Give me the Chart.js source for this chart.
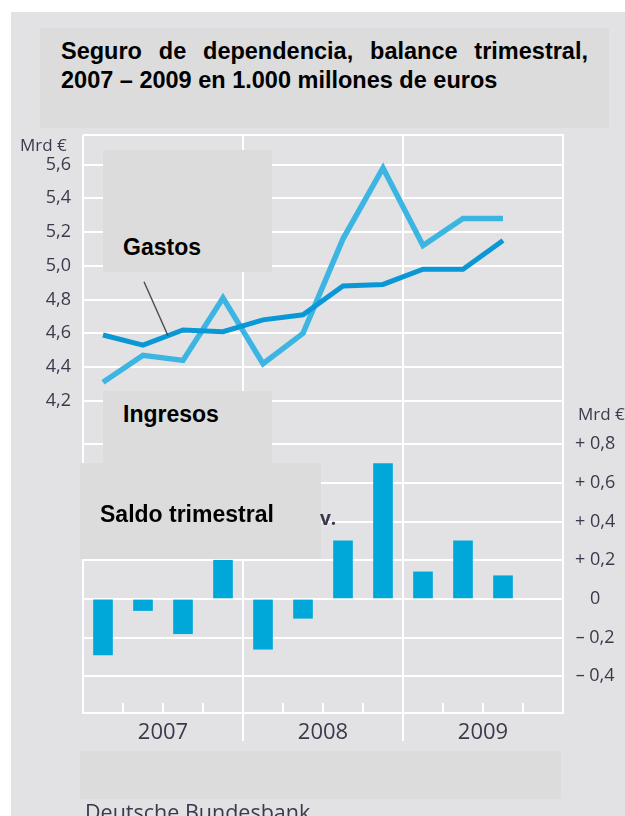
<!DOCTYPE html>
<html>
<head>
<meta charset="utf-8">
<script src="https://cdn.jsdelivr.net/npm/chart.js@4.4.1/dist/chart.umd.min.js"></script>
<style>
  html, body { margin: 0; padding: 0; background: #fff; }
  body { width: 625px; height: 816px; position: relative; overflow: hidden; }
  #panel { position: absolute; left: 11px; top: 12px; width: 614px; height: 804px; background: #e2e2e4; }
  #chart { position: absolute; left: 0; top: 0; }
  .caja { position: absolute; background: #dcdcdc; }
  .rotulo { position: absolute; font-family: "Liberation Sans", Arial, sans-serif; font-weight: bold; color: #000; white-space: nowrap; line-height: 1; }
  .gris { position: absolute; font-family: "Open Sans", sans-serif; color: #3a3a4c; white-space: nowrap; line-height: 1; }
</style>
</head>
<body>
<div id="panel"></div>
<canvas id="chart" width="625" height="816"></canvas>

<div class="caja" style="left:40px; top:28px; width:569px; height:100px;"></div>
<div class="rotulo" style="left:61px; top:40px; width:527px; font-size:23.5px; white-space:normal; text-align:justify; text-align-last:justify;">Seguro de dependencia, balance trimestral,</div>
<div class="rotulo" style="left:61px; top:69px; font-size:23.5px;">2007 – 2009 en 1.000 millones de euros</div>

<div class="caja" style="left:103px; top:150px; width:169px; height:122px;"></div>
<div class="rotulo" style="left:123px; top:236px; font-size:23px;">Gastos</div>

<div class="caja" style="left:103px; top:391px; width:169px; height:72px;"></div>
<div class="rotulo" style="left:123px; top:403px; font-size:23px;">Ingresos</div>

<div class="caja" style="left:80px; top:463px; width:241px; height:96px;"></div>
<div class="rotulo" style="left:100px; top:503px; font-size:23px;">Saldo trimestral</div>
<div class="gris" style="left:320px; top:509px; font-size:19px; font-weight:bold;">v.</div>

<div class="caja" style="left:80px; top:751px; width:481px; height:48px;"></div>

<div class="gris" style="left:20px; top:136px; font-size:17px;">Mrd €</div>
<div class="gris" style="left:578px; top:405px; font-size:17px;">Mrd €</div>
<div class="gris" style="left:85px; top:801px; font-size:21.5px;">Deutsche Bundesbank</div>

<script>
// trimestres 2007 I - 2009 III
const trimestres = ["2007 I", "2007 II", "2007 III", "2007 IV",
                    "2008 I", "2008 II", "2008 III", "2008 IV",
                    "2009 I", "2009 II", "2009 III"];
const anios = ["2007", "2008", "2009"];

// Mrd €
const gastos   = [4.59, 4.53, 4.62, 4.61, 4.68, 4.71, 4.88, 4.89, 4.98, 4.98, 5.15];
const ingresos = [4.31, 4.47, 4.44, 4.81, 4.42, 4.60, 5.16, 5.58, 5.12, 5.28, 5.28];
const saldo    = [-0.29, -0.06, -0.18, 0.20, -0.26, -0.10, 0.30, 0.70, 0.14, 0.30, 0.12];

const ticksIzq = [4.2, 4.4, 4.6, 4.8, 5.0, 5.2, 5.4, 5.6];
const ticksDer = [-0.4, -0.2, 0, 0.2, 0.4, 0.6, 0.8];

const BLANCO = "#ffffff";
const TEXTO = "#3a3a4c";

function puntos(serie) {
    return serie.map((v, i) => ({ x: i + 0.5, y: v }));
}

function coma(v) {
    return v.toFixed(1).replace(".", ",");
}

// marcas de trimestre y linea indicadora de "Gastos"
const extras = {
    id: "extras",
    afterDraw(chart) {
        const ctx = chart.ctx;
        const x = chart.scales.x;
        const y = chart.scales.y;
        const abajo = chart.chartArea.bottom;

        ctx.save();
        ctx.strokeStyle = BLANCO;
        ctx.lineWidth = 2;
        for (let q = 1; q < 12; q++) {
            if (q % 4 === 0) continue;
            const px = x.getPixelForValue(q);
            ctx.beginPath();
            ctx.moveTo(px, abajo);
            ctx.lineTo(px, abajo - 10);
            ctx.stroke();
        }

        // indicador: punto sobre la linea de gastos entre II y III 2007
        const t = 0.625;
        const vx = 1.5 + t;
        const vy = gastos[1] + t * (gastos[2] - gastos[1]);
        const ex = x.getPixelForValue(vx);
        const ey = y.getPixelForValue(vy);
        ctx.strokeStyle = "#4a4a4a";
        ctx.lineWidth = 1.4;
        ctx.beginPath();
        ctx.moveTo(ex - 24, ey - 54);
        ctx.lineTo(ex, ey);
        ctx.stroke();
        ctx.restore();
    }
};

new Chart(document.getElementById("chart"), {
    data: {
        datasets: [
            {
                type: "line",
                label: "Gastos",
                data: puntos(gastos),
                yAxisID: "y",
                borderColor: "#0a97d6",
                borderWidth: 5,
                pointRadius: 0,
                tension: 0,
                borderJoinStyle: "miter",
                order: 1
            },
            {
                type: "line",
                label: "Ingresos",
                data: puntos(ingresos),
                yAxisID: "y",
                borderColor: "#3db5e2",
                borderWidth: 5.5,
                pointRadius: 0,
                tension: 0,
                borderJoinStyle: "miter",
                order: 2
            },
            {
                type: "bar",
                label: "Saldo trimestral",
                data: puntos(saldo),
                yAxisID: "y2",
                backgroundColor: "#00a8da",
                barThickness: 19,
                order: 3
            }
        ]
    },
    options: {
        responsive: false,
        animation: false,
        layout: { padding: { top: 135, bottom: 53, left: 0, right: 0 } },
        plugins: {
            legend: { display: false },
            tooltip: { enabled: false }
        },
        scales: {
            x: {
                type: "linear",
                min: 0,
                max: 12,
                offset: false,
                afterBuildTicks(scale) {
                    scale.ticks = Array.from({ length: 13 }, (_, i) => ({ value: i }));
                },
                afterFit(scale) { scale.height = 50; },
                grid: {
                    offset: false,
                    color: c => (c.tick && c.tick.value % 4 === 0) ? BLANCO : "rgba(0,0,0,0)",
                    lineWidth: 2,
                    tickLength: 28,
                    tickColor: c => (c.tick && (c.tick.value === 4 || c.tick.value === 8)) ? BLANCO : "rgba(0,0,0,0)",
                    tickWidth: 2
                },
                border: { display: true, color: BLANCO, width: 2 },
                ticks: {
                    autoSkip: false,
                    maxRotation: 0,
                    padding: -21,
                    color: TEXTO,
                    font: { family: "Open Sans", size: 22 },
                    callback: v => (v % 4 === 2) ? anios[(v - 2) / 4] : ""
                }
            },
            y: {
                position: "left",
                min: 2.351,
                max: 5.775,
                afterBuildTicks(scale) {
                    scale.ticks = ticksIzq.concat([5.775]).map(v => ({ value: v }));
                },
                afterFit(scale) { scale.width = 83; },
                grid: { color: BLANCO, lineWidth: 2, drawTicks: false },
                border: { display: false },
                ticks: {
                    padding: 12,
                    color: TEXTO,
                    font: { family: "Open Sans", size: 18 },
                    callback: v => ticksIzq.includes(v) ? coma(v) : ""
                }
            },
            y2: {
                position: "right",
                min: -0.59,
                max: 2.40,
                afterBuildTicks(scale) {
                    scale.ticks = ticksDer.map(v => ({ value: v }));
                },
                afterFit(scale) { scale.width = 62; },
                grid: { color: BLANCO, lineWidth: 2, drawTicks: false },
                border: { display: true, color: BLANCO, width: 2 },
                ticks: {
                    padding: 12,
                    crossAlign: "center",
                    color: TEXTO,
                    font: { family: "Open Sans", size: 18 },
                    callback: v => v === 0 ? "0" : (v > 0 ? "+ " : "– ") + coma(Math.abs(v))
                }
            }
        }
    },
    plugins: [extras]
});
</script>
</body>
</html>
